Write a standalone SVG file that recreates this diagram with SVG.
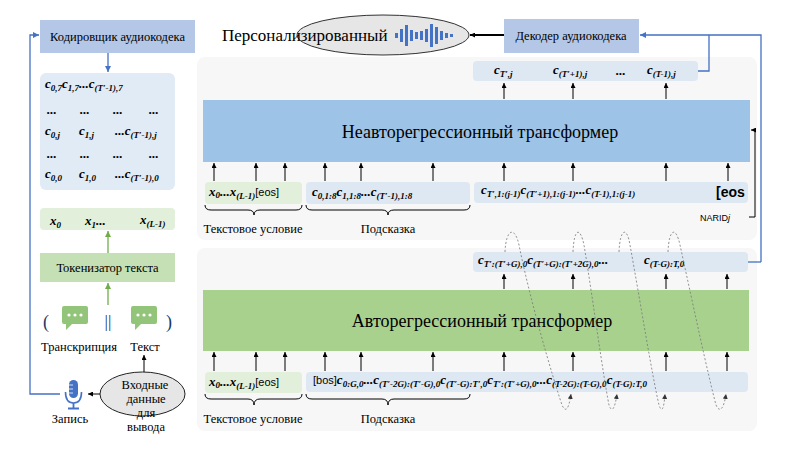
<svg xmlns="http://www.w3.org/2000/svg" width="794" height="458" viewBox="0 0 794 458" font-family="Liberation Serif, serif">
<defs>
<marker id="ah" viewBox="0 0 6 6" refX="6" refY="3" markerWidth="5" markerHeight="5" markerUnits="userSpaceOnUse" orient="auto"><path d="M0,0 L6,3 L0,6 z" fill="#000"/></marker>
<marker id="ahb" viewBox="0 0 6 6" refX="6" refY="3" markerWidth="6" markerHeight="6" markerUnits="userSpaceOnUse" orient="auto"><path d="M0,0 L6,3 L0,6 z" fill="#4472c4"/></marker>
<marker id="ahg" viewBox="0 0 6 6" refX="6" refY="3" markerWidth="6" markerHeight="6" markerUnits="userSpaceOnUse" orient="auto"><path d="M0,0 L6,3 L0,6 z" fill="#70ad47"/></marker>
<marker id="ahd" viewBox="0 0 6 6" refX="6" refY="3" markerWidth="5" markerHeight="5" markerUnits="userSpaceOnUse" orient="auto"><path d="M0,0 L6,3 L0,6 z" fill="#333"/></marker>
</defs>
<style>
.lbl{font-size:12.5px}
.big{font-size:18px}
.m{font-size:13px;font-weight:bold;font-style:italic}
.s{font-size:9px}
.sn{font-style:normal;font-weight:normal;font-size:11px}
.panel{fill:#f7f7f7}
.rowb{fill:#dee8f3}
.rowg{fill:#e2efda}
.ar{stroke:#000;stroke-width:1;fill:none;marker-end:url(#ah)}
.brace{stroke:#000;stroke-width:1;fill:none}
.blue{stroke:#4472c4;stroke-width:1.3;fill:none}
.dash{stroke:#777;stroke-width:0.8;fill:none;stroke-dasharray:2 2}
</style>
<rect width="794" height="458" fill="#fff"/>

<g id="panel-nar"><rect class="panel" x="197" y="57" width="560" height="183" rx="8"/></g>
<g id="panel-ar"><rect class="panel" x="197" y="248" width="560" height="183" rx="8"/></g>

<g id="encoder" font-family="Liberation Serif">
<rect x="40" y="20" width="155" height="33" fill="#b4c7e7"/>
<text class="lbl" x="117.5" y="41" text-anchor="middle" font-family="Liberation Serif">Кодировщик аудиокодека</text>
</g>

<g id="codes-matrix" font-family="Liberation Serif">
<rect x="40" y="73" width="135" height="117" rx="6" fill="#e1ebf5"/>
<text class="m" x="45" y="88" font-family="Liberation Serif">c<tspan class="s" dy="3">0,7</tspan><tspan dy="-3">c</tspan><tspan class="s" dy="3">1,7</tspan><tspan dy="-3">...c</tspan><tspan class="s" dy="3">(T′-1),7</tspan></text>
<text class="m" y="114" font-family="Liberation Serif"><tspan x="47">...</tspan><tspan x="80">...</tspan><tspan x="113">...</tspan><tspan x="149">...</tspan></text>
<text class="m" x="45" y="135" font-family="Liberation Serif">c<tspan class="s" dy="3">0,j</tspan></text>
<text class="m" x="79" y="135" font-family="Liberation Serif">c<tspan class="s" dy="3">1,j</tspan></text>
<text class="m" x="115" y="135" font-family="Liberation Serif">...c<tspan class="s" dy="3">(T′-1),j</tspan></text>
<text class="m" y="158" font-family="Liberation Serif"><tspan x="47">...</tspan><tspan x="80">...</tspan><tspan x="113">...</tspan><tspan x="149">...</tspan></text>
<text class="m" x="45" y="178" font-family="Liberation Serif">c<tspan class="s" dy="3">0,0</tspan></text>
<text class="m" x="79" y="178" font-family="Liberation Serif">c<tspan class="s" dy="3">1,0</tspan></text>
<text class="m" x="115" y="178" font-family="Liberation Serif">...c<tspan class="s" dy="3">(T′-1),0</tspan></text>
</g>

<g id="text-tokens" font-family="Liberation Serif">
<rect x="40" y="208" width="135" height="22" rx="4" fill="#e2efda"/>
<text class="m" x="50" y="225" font-size="14" font-family="Liberation Serif">x<tspan class="s" dy="3">0</tspan></text>
<text class="m" x="85" y="225" font-size="14" font-family="Liberation Serif">x<tspan class="s" dy="3">1</tspan><tspan dy="-3">...</tspan></text>
<text class="m" x="140" y="224" font-size="14" font-family="Liberation Serif">x<tspan class="s" dy="3">(L-1)</tspan></text>
</g>

<g id="tokenizer" font-family="Liberation Serif">
<rect x="40" y="253" width="135" height="29" fill="#c5e0b4"/>
<text class="lbl" x="107.5" y="272" text-anchor="middle" font-family="Liberation Serif">Токенизатор текста</text>
</g>

<g id="transcript-text" font-family="Liberation Serif">
<text x="43" y="328" font-size="18" fill="#203864" font-family="Liberation Serif">(</text>
<path d="M64,306 h22 a2,2 0 0 1 2,2 v14 a2,2 0 0 1 -2,2 h-14 l-6,6 v-6 h-2 a2,2 0 0 1 -2,-2 v-14 a2,2 0 0 1 2,-2 z" fill="#92c47a"/>
<circle cx="69" cy="315" r="1.6" fill="#fff"/><circle cx="75" cy="315" r="1.6" fill="#fff"/><circle cx="81" cy="315" r="1.6" fill="#fff"/>
<text x="108" y="327" font-size="17" text-anchor="middle" fill="#203864" font-family="Liberation Serif">||</text>
<path d="M133,306 h22 a2,2 0 0 1 2,2 v14 a2,2 0 0 1 -2,2 h-14 l-6,6 v-6 h-2 a2,2 0 0 1 -2,-2 v-14 a2,2 0 0 1 2,-2 z" fill="#92c47a"/>
<circle cx="138" cy="315" r="1.6" fill="#fff"/><circle cx="144" cy="315" r="1.6" fill="#fff"/><circle cx="150" cy="315" r="1.6" fill="#fff"/>
<text x="166" y="328" font-size="18" fill="#203864" font-family="Liberation Serif">)</text>
<text class="lbl" x="79" y="351" text-anchor="middle" font-family="Liberation Serif">Транскрипция</text>
<text class="lbl" x="145" y="351" text-anchor="middle" font-family="Liberation Serif">Текст</text>
</g>

<g id="recording" font-family="Liberation Serif">
<rect x="69" y="380" width="9" height="18" rx="4.5" fill="#4472c4"/>
<path d="M69,385 h4 M69,389 h4 M69,393 h4" stroke="#fff" stroke-width="0.8"/>
<path d="M65.5,392 Q65.5,403 73.5,403 Q81.5,403 81.5,392" stroke="#4472c4" stroke-width="1.6" fill="none"/>
<path d="M73.5,403 V408 M68,408.5 H79" stroke="#4472c4" stroke-width="1.8"/>
<text class="lbl" x="70" y="423" text-anchor="middle" font-family="Liberation Serif">Запись</text>
</g>

<g id="input-data" font-family="Liberation Serif">
<ellipse cx="142.5" cy="394" rx="42.5" ry="22" fill="#e6e6e6" stroke="#222" stroke-width="1"/>
<text class="lbl" x="145" y="389" text-anchor="middle" font-family="Liberation Serif">Входные</text>
<text class="lbl" x="146" y="403" text-anchor="middle" font-family="Liberation Serif">данные</text>
<text class="lbl" x="146" y="417" text-anchor="middle" font-family="Liberation Serif">для</text>
<text class="lbl" x="146" y="431" text-anchor="middle" font-family="Liberation Serif">вывода</text>
</g>

<g id="personalized" font-family="Liberation Serif">
<ellipse cx="383" cy="35" rx="86" ry="20" fill="#e6e6e6" stroke="#333" stroke-width="1"/>
<text x="222" y="41" font-size="17" font-family="Liberation Serif">Персонализированный</text>
<g fill="#4472c4">
<rect x="395" y="33" width="3" height="5"/>
<rect x="400" y="29" width="3" height="13"/>
<rect x="405" y="25" width="3" height="21"/>
<rect x="410" y="30" width="3" height="11"/>
<rect x="415" y="32" width="3" height="7"/>
<rect x="420" y="31" width="3" height="9"/>
<rect x="425" y="29" width="3" height="13"/>
<rect x="430" y="24" width="3" height="23"/>
<rect x="435" y="27" width="3" height="17"/>
<rect x="440" y="31" width="3" height="9"/>
<rect x="445" y="33" width="3" height="5"/>
<rect x="450" y="34" width="3" height="3"/>
</g>
</g>

<g id="decoder" font-family="Liberation Serif">
<rect x="504" y="19" width="135" height="34" fill="#b4c7e7"/>
<text class="lbl" x="571" y="40" text-anchor="middle" font-family="Liberation Serif">Декодер аудиокодека</text>
</g>

<g id="nar-output" font-family="Liberation Serif">
<rect class="rowb" x="473" y="61" width="225" height="20" rx="4"/>
<text class="m" x="494" y="74" font-family="Liberation Serif">c<tspan class="s" dy="3">T′,j</tspan></text>
<text class="m" x="553" y="74" font-family="Liberation Serif">c<tspan class="s" dy="3">(T′+1),j</tspan></text>
<text class="m" x="616" y="75" font-family="Liberation Serif">...</text>
<text class="m" x="647" y="74" font-family="Liberation Serif">c<tspan class="s" dy="3">(T-1),j</tspan></text>
</g>

<g id="nar-transformer" font-family="Liberation Serif">
<rect x="203" y="100" width="547" height="62" fill="#9dc3e6"/>
<text class="big" x="480" y="138" text-anchor="middle" font-family="Liberation Serif">Неавторегрессионный трансформер</text>
</g>

<g id="nar-input" font-family="Liberation Serif">
<rect class="rowg" x="205" y="182" width="97" height="22" rx="4"/>
<text class="m" x="209" y="196" font-family="Liberation Serif">x<tspan class="s" dy="2">0</tspan><tspan dy="-2">...x</tspan><tspan class="s" dy="3">(L-1)</tspan><tspan class="sn" dy="-3" font-family="Liberation Sans">[eos]</tspan></text>
<rect class="rowb" x="306" y="182" width="164" height="22" rx="4"/>
<text class="m" x="312" y="196" font-family="Liberation Serif">c<tspan class="s" dy="3">0,1:8</tspan><tspan dy="-3">c</tspan><tspan class="s" dy="3">1,1:8</tspan><tspan dy="-3">...c</tspan><tspan class="s" dy="3">(T′-1),1:8</tspan></text>
<rect class="rowb" x="474" y="182" width="274" height="21" rx="4"/>
<text class="m" x="481" y="194" font-family="Liberation Serif">c<tspan class="s" dy="3">T′,1:(j-1)</tspan><tspan dy="-3">c</tspan><tspan class="s" dy="3">(T′+1),1:(j-1)</tspan><tspan dy="-3">...c</tspan><tspan class="s" dy="3">(T-1),1:(j-1)</tspan></text>
<text x="716" y="197" font-family="Liberation Sans" font-size="14" font-weight="bold">[eos</text>
<path class="brace" d="M205,205 Q205,210 211,210 L248,210 Q254,210 254,215 Q254,210 260,210 L296,210 Q302,210 302,205"/>
<path class="brace" d="M306,205 Q306,210 312,210 L382,210 Q388,210 388,215 Q388,210 394,210 L464,210 Q470,210 470,205"/>
<text class="lbl" x="253" y="233" text-anchor="middle" font-family="Liberation Serif">Текстовое условие</text>
<text class="lbl" x="388" y="233" text-anchor="middle" font-family="Liberation Serif">Подсказка</text>
<text x="700" y="221" font-family="Liberation Sans" font-size="9">NARID<tspan font-style="italic">j</tspan></text>
</g>

<g id="ar-output" font-family="Liberation Serif">
<rect class="rowb" x="473" y="252" width="275" height="20" rx="4"/>
<text class="m" x="478" y="264" font-size="12" font-family="Liberation Serif">c<tspan class="s" dy="3">T′:(T′+G),0</tspan><tspan dy="-3">c</tspan><tspan class="s" dy="3">(T′+G):(T′+2G),0</tspan><tspan dy="-3">...</tspan></text>
<text class="m" x="644" y="264" font-size="12" font-family="Liberation Serif">c<tspan class="s" dy="3">(T-G):T,0</tspan></text>
</g>

<g id="ar-transformer" font-family="Liberation Serif">
<rect x="203" y="290" width="546" height="61" fill="#a9d18e"/>
<text class="big" x="482" y="327" text-anchor="middle" font-family="Liberation Serif">Авторегрессионный трансформер</text>
</g>

<g id="ar-input" font-family="Liberation Serif">
<rect class="rowg" x="205" y="372" width="97" height="21" rx="4"/>
<text class="m" x="209" y="386" font-family="Liberation Serif">x<tspan class="s" dy="2">0</tspan><tspan dy="-2">...x</tspan><tspan class="s" dy="3">(L-1)</tspan><tspan class="sn" dy="-3" font-family="Liberation Sans">[eos]</tspan></text>
<rect class="rowb" x="306" y="372" width="442" height="20" rx="4"/>
<text class="m" x="313" y="384" font-size="12" font-family="Liberation Serif"><tspan class="sn" font-family="Liberation Sans">[bos]</tspan>c<tspan class="s" dy="3">0:G,0</tspan><tspan dy="-3">...c</tspan><tspan class="s" dy="3">(T′-2G):(T′-G),0</tspan><tspan dy="-3">c</tspan><tspan class="s" dy="3">(T′-G):T′,0</tspan><tspan dy="-3">c</tspan><tspan class="s" dy="3">T′:(T′+G),0</tspan><tspan dy="-3">...c</tspan><tspan class="s" dy="3">(T-2G):(T-G),0</tspan><tspan dy="-3">c</tspan><tspan class="s" dy="3">(T-G):T,0</tspan></text>
<path class="brace" d="M205,394 Q205,399 211,399 L248,399 Q254,399 254,405 Q254,399 260,399 L296,399 Q302,399 302,394"/>
<path class="brace" d="M306,394 Q306,399 312,399 L382,399 Q388,399 388,405 Q388,399 394,399 L464,399 Q470,399 470,394"/>
<text class="lbl" x="253" y="423" text-anchor="middle" font-family="Liberation Serif">Текстовое условие</text>
<text class="lbl" x="388" y="423" text-anchor="middle" font-family="Liberation Serif">Подсказка</text>
</g>

<g id="connectors">
<line class="blue" x1="108" y1="53" x2="108" y2="72" marker-end="url(#ahb)"/>
<line x1="108" y1="253" x2="108" y2="231" stroke="#70ad47" stroke-width="1.3" marker-end="url(#ahg)"/>
<line x1="108" y1="305" x2="108" y2="283" stroke="#70ad47" stroke-width="1.3" marker-end="url(#ahg)"/>
<line class="ar" x1="144" y1="372" x2="144" y2="355"/>
<line class="ar" x1="100" y1="394" x2="88" y2="394"/>
<polyline class="blue" points="60,394 30,394 30,35 39,35" marker-end="url(#ahb)"/>
<line x1="504" y1="35" x2="470" y2="35" stroke="#000" stroke-width="2" marker-end="url(#ah)"/>
<polyline class="blue" points="761,262 761,106 761,35 640,35" marker-end="url(#ahb)"/>
<polyline class="blue" points="748,262 761,262"/>
<polyline class="blue" points="698,71 709,71 709,35"/>
<polyline class="ar" points="749,217 755,217 755,130 751,130"/>
<g id="nar-arrows">
<line class="ar" x1="214" y1="181" x2="214" y2="163"/>
<line class="ar" x1="256" y1="181" x2="256" y2="163"/>
<line class="ar" x1="285" y1="181" x2="285" y2="163"/>
<line class="ar" x1="325" y1="181" x2="325" y2="163"/>
<line class="ar" x1="361" y1="181" x2="361" y2="163"/>
<line class="ar" x1="433" y1="181" x2="433" y2="163"/>
<line class="ar" x1="504" y1="181" x2="504" y2="163"/>
<line class="ar" x1="573" y1="181" x2="573" y2="163"/>
<line class="ar" x1="666" y1="181" x2="666" y2="163"/>
<line class="ar" x1="728" y1="181" x2="728" y2="163"/>
<line class="ar" x1="504" y1="99" x2="504" y2="83"/>
<line class="ar" x1="573" y1="99" x2="573" y2="83"/>
<line class="ar" x1="666" y1="99" x2="666" y2="83"/>
</g>
<g id="ar-arrows">
<line class="ar" x1="214" y1="371" x2="214" y2="352"/>
<line class="ar" x1="256" y1="371" x2="256" y2="352"/>
<line class="ar" x1="285" y1="371" x2="285" y2="352"/>
<line class="ar" x1="325" y1="371" x2="325" y2="352"/>
<line class="ar" x1="361" y1="371" x2="361" y2="352"/>
<line class="ar" x1="433" y1="371" x2="433" y2="352"/>
<line class="ar" x1="504" y1="371" x2="504" y2="352"/>
<line class="ar" x1="573" y1="371" x2="573" y2="352"/>
<line class="ar" x1="666" y1="371" x2="666" y2="352"/>
<line class="ar" x1="727" y1="371" x2="727" y2="352"/>
<line class="ar" x1="504" y1="289" x2="504" y2="274"/>
<line class="ar" x1="573" y1="289" x2="573" y2="274"/>
<line class="ar" x1="666" y1="289" x2="666" y2="274"/>
<line class="ar" x1="727" y1="289" x2="727" y2="274"/>
</g>
<g id="feedback-curves">
<path class="dash" marker-end="url(#ahd)" d="M505,252 C506,228 515,226 519,245 C530,300 552,375 562,405 C566,414 569,408 571,394"/>
<path class="dash" marker-end="url(#ahd)" d="M573,252 C574,228 580,226 584,245 C593,300 603,375 609,405 C612,414 615,408 617,394"/>
<path class="dash" marker-end="url(#ahd)" d="M619,252 C620,228 627,226 630,245 C640,300 652,375 659,405 C662,414 664,408 665,394"/>
<path class="dash" marker-end="url(#ahd)" d="M668,252 C669,228 676,226 680,245 C692,300 708,375 716,405 C720,414 724,408 726,394"/>
</g>
</g>
</svg>
